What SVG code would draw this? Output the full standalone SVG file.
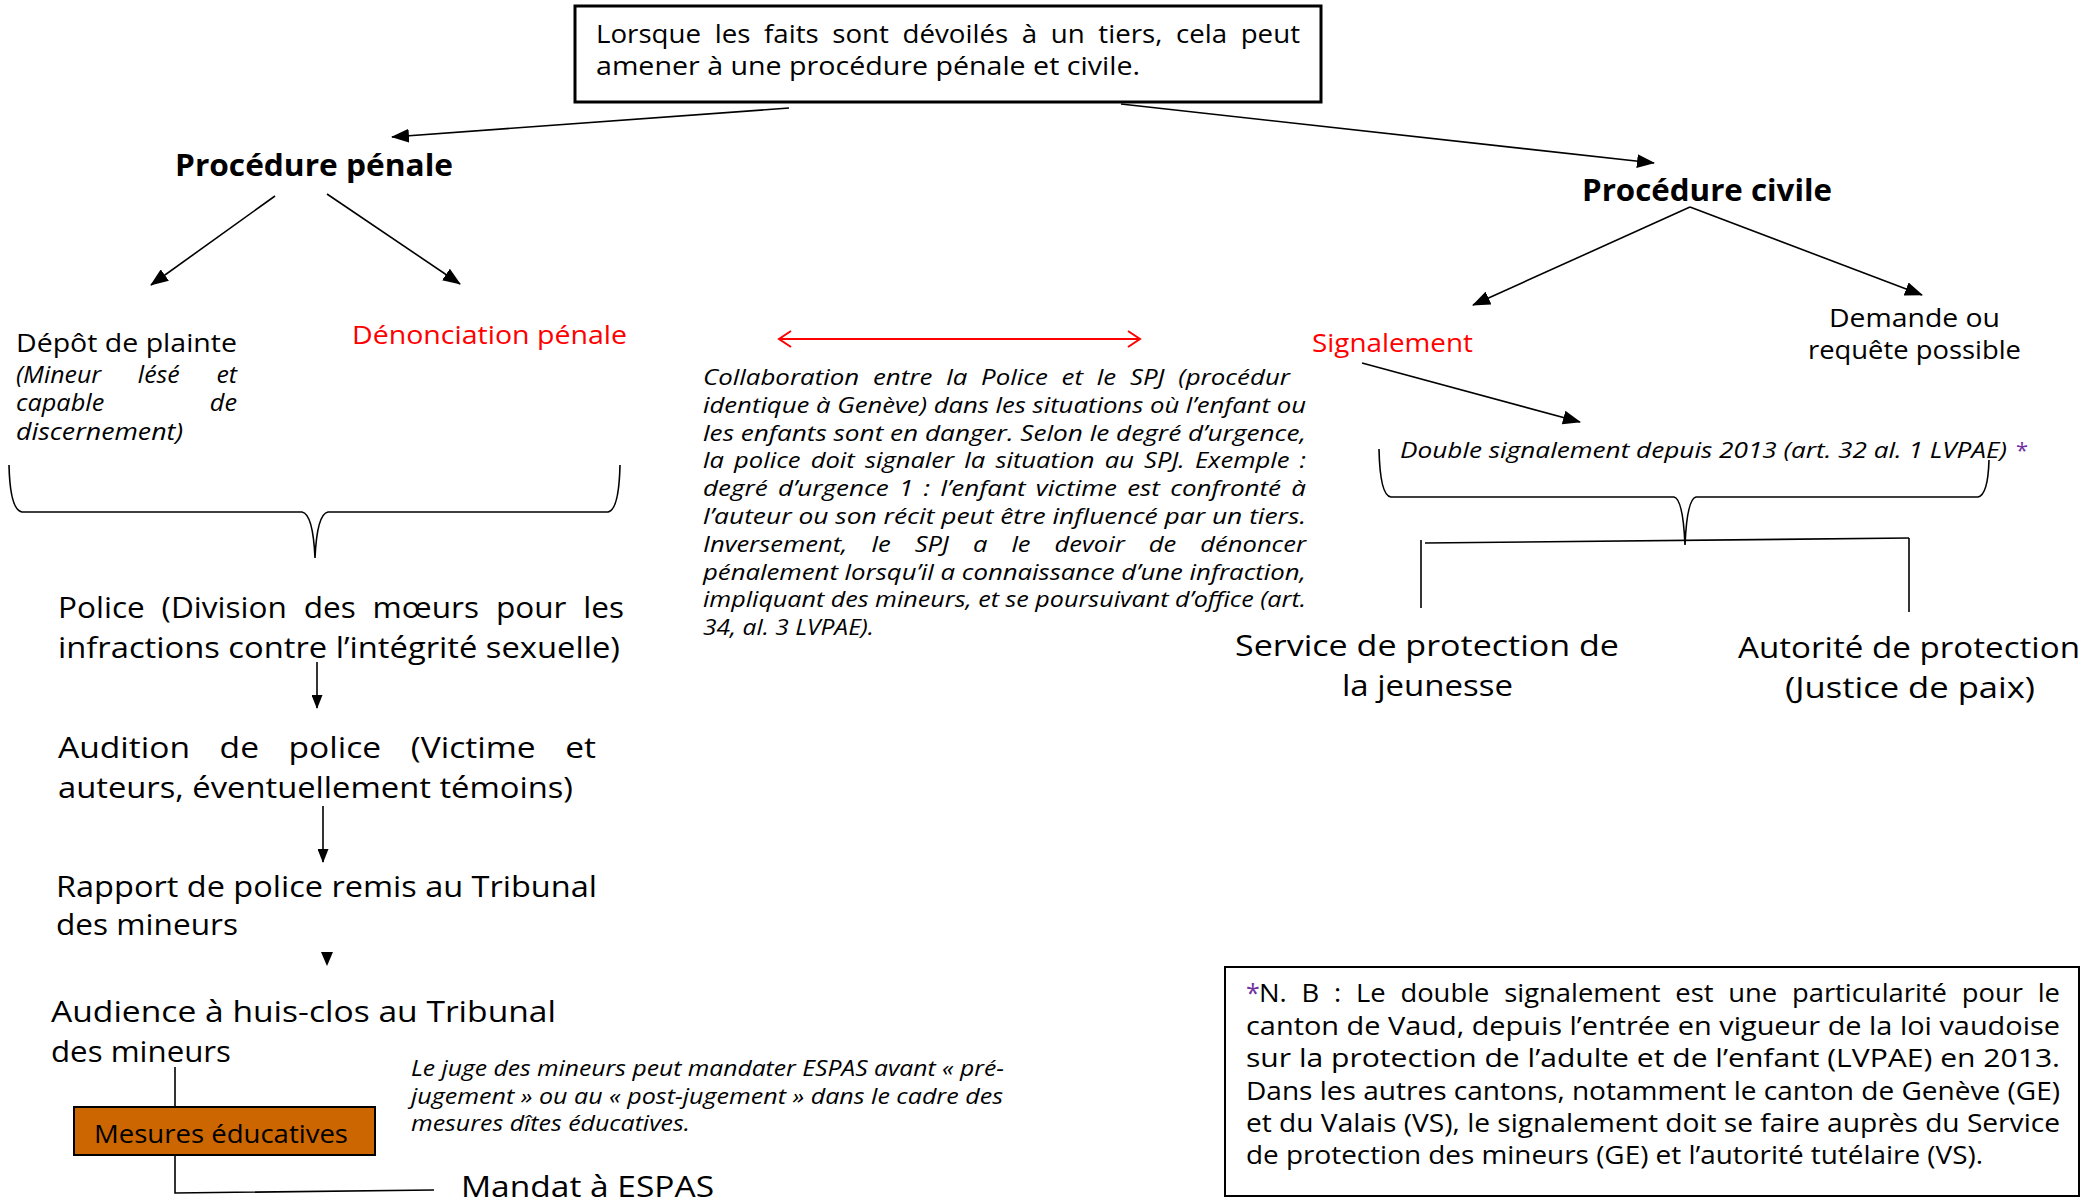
<svg xmlns="http://www.w3.org/2000/svg" width="2093" height="1203" viewBox="0 0 2093 1203">
<style>
.t{font-family:"Open Sans","Liberation Sans",sans-serif;fill:#000}
.it{font-style:italic}
.b{font-weight:bold}
.red{fill:#FF0000}
.pur{fill:#7030A0}
.ln{stroke:#000;stroke-width:1.6;fill:none}
.rl{stroke:#FF0000;stroke-width:2;fill:none}
</style>
<defs>
<marker id="ah" markerUnits="userSpaceOnUse" markerWidth="18" markerHeight="14" refX="17" refY="7" orient="auto">
<path d="M0,0 L18,7 L0,14 z" fill="#000"/>
</marker>
<marker id="as" markerUnits="userSpaceOnUse" markerWidth="14" markerHeight="11" refX="13" refY="5.5" orient="auto">
<path d="M0,0 L14,5.5 L0,11 z" fill="#000"/>
</marker>
</defs>

<g id="connectors">
<line class="ln" x1="789" y1="108" x2="392" y2="137" marker-end="url(#ah)"/>
<line class="ln" x1="1121" y1="104" x2="1654" y2="163" marker-end="url(#ah)"/>
<line class="ln" x1="275" y1="196" x2="151" y2="285" marker-end="url(#ah)"/>
<line class="ln" x1="327" y1="194" x2="460" y2="284" marker-end="url(#ah)"/>
<line class="ln" x1="1690" y1="207" x2="1473" y2="305" marker-end="url(#ah)"/>
<line class="ln" x1="1690" y1="207" x2="1922" y2="295" marker-end="url(#ah)"/>
<line class="ln" x1="1362" y1="363" x2="1580" y2="422" marker-end="url(#ah)"/>
<path class="ln" d="M9,465 Q10,510 22,512 L302,512 Q313,514 315,558 Q317,514 328,512 L608,512 Q619,510 620,465"/>
<path class="ln" d="M1379,449 Q1380,496 1391,497 L1674,497 Q1683,499 1685,545 Q1687,499 1696,497 L1978,497 Q1988,495 1989,460"/>
<line class="ln" x1="1425" y1="543" x2="1909" y2="538"/>
<line class="ln" x1="1421" y1="540" x2="1421" y2="608"/>
<line class="ln" x1="1909" y1="538" x2="1909" y2="612"/>
<line class="ln" x1="317" y1="662" x2="317" y2="708" marker-end="url(#as)"/>
<line class="ln" x1="323" y1="806" x2="323" y2="862" marker-end="url(#as)"/>
<polygon points="321,952 333,952 327,966" fill="#000"/>
<line class="ln" x1="175" y1="1067" x2="175" y2="1107"/>
<polyline class="ln" points="175,1156 175,1193 434,1190"/>
<g id="red-double-arrow">
<line class="rl" x1="779" y1="339" x2="1140" y2="339"/>
<polyline class="rl" points="791,331 779,339 791,347"/>
<polyline class="rl" points="1128,331 1140,339 1128,347"/>
</g>
</g>

<g id="top-box">
<rect x="575" y="6" width="746" height="96" fill="#fff" stroke="#000" stroke-width="3"/>
<text class="t" font-size="26" x="596" y="43" word-spacing="6" textLength="704" lengthAdjust="spacingAndGlyphs">Lorsque les faits sont dévoilés à un tiers, cela peut</text>
<text class="t" font-size="26" x="596" y="75" textLength="544" lengthAdjust="spacingAndGlyphs">amener à une procédure pénale et civile.</text>
</g>

<g id="procedure-penale">
<text class="t b" font-size="30" x="175" y="176" textLength="278" lengthAdjust="spacingAndGlyphs">Procédure pénale</text>
</g>
<g id="procedure-civile">
<text class="t b" font-size="30" x="1582" y="201" textLength="250" lengthAdjust="spacingAndGlyphs">Procédure civile</text>
</g>

<g id="depot-plainte">
<text class="t" font-size="25" x="16" y="352" textLength="221" lengthAdjust="spacingAndGlyphs">Dépôt de plainte</text>
<text class="t it" font-size="23" x="16" y="383" word-spacing="28" textLength="221" lengthAdjust="spacingAndGlyphs">(Mineur lésé et</text>
<text class="t it" font-size="23" x="16" y="411" word-spacing="90" textLength="221" lengthAdjust="spacingAndGlyphs">capable de</text>
<text class="t it" font-size="23" x="16" y="440" textLength="167" lengthAdjust="spacingAndGlyphs">discernement)</text>
</g>

<g id="denonciation">
<text class="t red" font-size="25" x="352" y="344" textLength="275" lengthAdjust="spacingAndGlyphs">Dénonciation pénale</text>
</g>

<g id="collaboration">
<text class="t it" font-size="22" x="703" y="385" word-spacing="6" textLength="587" lengthAdjust="spacingAndGlyphs">Collaboration entre la Police et le SPJ (procédur</text>
<text class="t it" font-size="22" x="703" y="413" textLength="603" lengthAdjust="spacingAndGlyphs">identique à Genève) dans les situations où l’enfant ou</text>
<text class="t it" font-size="22" x="703" y="441" textLength="603" lengthAdjust="spacingAndGlyphs">les enfants sont en danger. Selon le degré d’urgence,</text>
<text class="t it" font-size="22" x="703" y="468" word-spacing="3" textLength="603" lengthAdjust="spacingAndGlyphs">la police doit signaler la situation au SPJ. Exemple :</text>
<text class="t it" font-size="22" x="703" y="496" word-spacing="3" textLength="603" lengthAdjust="spacingAndGlyphs">degré d’urgence 1 : l’enfant victime est confronté à</text>
<text class="t it" font-size="22" x="703" y="524" textLength="603" lengthAdjust="spacingAndGlyphs">l’auteur ou son récit peut être influencé par un tiers.</text>
<text class="t it" font-size="22" x="703" y="552" word-spacing="15" textLength="603" lengthAdjust="spacingAndGlyphs">Inversement, le SPJ a le devoir de dénoncer</text>
<text class="t it" font-size="22" x="703" y="580" textLength="603" lengthAdjust="spacingAndGlyphs">pénalement lorsqu’il a connaissance d’une infraction,</text>
<text class="t it" font-size="22" x="703" y="607" textLength="603" lengthAdjust="spacingAndGlyphs">impliquant des mineurs, et se poursuivant d’office (art.</text>
<text class="t it" font-size="22" x="703" y="635" textLength="171" lengthAdjust="spacingAndGlyphs">34, al. 3 LVPAE).</text>
</g>

<g id="signalement">
<text class="t red" font-size="26" x="1312" y="352" textLength="161" lengthAdjust="spacingAndGlyphs">Signalement</text>
</g>
<g id="demande">
<text class="t" font-size="26" x="1829" y="327" textLength="171" lengthAdjust="spacingAndGlyphs">Demande ou</text>
<text class="t" font-size="26" x="1808" y="359" textLength="213" lengthAdjust="spacingAndGlyphs">requête possible</text>
</g>
<g id="double-signalement">
<text class="t it" font-size="22" x="1400" y="458" textLength="607" lengthAdjust="spacingAndGlyphs">Double signalement depuis 2013 (art. 32 al. 1 LVPAE)</text>
<text class="t pur" font-size="22" x="2016" y="458">*</text>
</g>
<g id="service-protection">
<text class="t" font-size="30" x="1235" y="656" textLength="384" lengthAdjust="spacingAndGlyphs">Service de protection de</text>
<text class="t" font-size="30" x="1342" y="696" textLength="171" lengthAdjust="spacingAndGlyphs">la jeunesse</text>
</g>
<g id="autorite-protection">
<text class="t" font-size="30" x="1738" y="658" textLength="342" lengthAdjust="spacingAndGlyphs">Autorité de protection</text>
<text class="t" font-size="30" x="1785" y="698" textLength="250" lengthAdjust="spacingAndGlyphs">(Justice de paix)</text>
</g>

<g id="police">
<text class="t" font-size="29" x="58" y="618" word-spacing="8" textLength="566" lengthAdjust="spacingAndGlyphs">Police (Division des mœurs pour les</text>
<text class="t" font-size="29" x="58" y="658" textLength="562" lengthAdjust="spacingAndGlyphs">infractions contre l’intégrité sexuelle)</text>
</g>
<g id="audition">
<text class="t" font-size="29" x="58" y="758" word-spacing="18" textLength="538" lengthAdjust="spacingAndGlyphs">Audition de police (Victime et</text>
<text class="t" font-size="29" x="58" y="798" textLength="515" lengthAdjust="spacingAndGlyphs">auteurs, éventuellement témoins)</text>
</g>
<g id="rapport">
<text class="t" font-size="29" x="56" y="897" textLength="541" lengthAdjust="spacingAndGlyphs">Rapport de police remis au Tribunal</text>
<text class="t" font-size="29" x="56" y="935" textLength="182" lengthAdjust="spacingAndGlyphs">des mineurs</text>
</g>
<g id="audience">
<text class="t" font-size="29" x="51" y="1022" textLength="505" lengthAdjust="spacingAndGlyphs">Audience à huis-clos au Tribunal</text>
<text class="t" font-size="29" x="51" y="1062" textLength="180" lengthAdjust="spacingAndGlyphs">des mineurs</text>
</g>
<g id="mesures-educatives">
<rect x="74" y="1107" width="301" height="48" fill="#CC6600" stroke="#000" stroke-width="2"/>
<text class="t" font-size="26" x="94" y="1143" textLength="254" lengthAdjust="spacingAndGlyphs">Mesures éducatives</text>
</g>
<g id="juge-note">
<text class="t it" font-size="21" x="411" y="1076" textLength="593" lengthAdjust="spacingAndGlyphs">Le juge des mineurs peut mandater ESPAS avant « pré-</text>
<text class="t it" font-size="21" x="411" y="1104" textLength="592" lengthAdjust="spacingAndGlyphs">jugement » ou au « post-jugement » dans le cadre des</text>
<text class="t it" font-size="21" x="411" y="1131" textLength="279" lengthAdjust="spacingAndGlyphs">mesures dîtes éducatives.</text>
</g>
<g id="mandat-espas">
<text class="t" font-size="29" x="461" y="1197" textLength="253" lengthAdjust="spacingAndGlyphs">Mandat à ESPAS</text>
</g>

<g id="nb-box">
<rect x="1225" y="967" width="854" height="229" fill="#fff" stroke="#000" stroke-width="2"/>
<text class="t pur" font-size="25" x="1246" y="1002">*</text>
<text class="t" font-size="25" x="1259" y="1002" word-spacing="7" textLength="801" lengthAdjust="spacingAndGlyphs">N. B : Le double signalement est une particularité pour le</text>
<text class="t" font-size="25" x="1246" y="1035" textLength="814" lengthAdjust="spacingAndGlyphs">canton de Vaud, depuis l’entrée en vigueur de la loi vaudoise</text>
<text class="t" font-size="25" x="1246" y="1067" textLength="814" lengthAdjust="spacingAndGlyphs">sur la protection de l’adulte et de l’enfant (LVPAE) en 2013.</text>
<text class="t" font-size="25" x="1246" y="1100" textLength="814" lengthAdjust="spacingAndGlyphs">Dans les autres cantons, notamment le canton de Genève (GE)</text>
<text class="t" font-size="25" x="1246" y="1132" textLength="814" lengthAdjust="spacingAndGlyphs">et du Valais (VS), le signalement doit se faire auprès du Service</text>
<text class="t" font-size="25" x="1246" y="1164" textLength="737" lengthAdjust="spacingAndGlyphs">de protection des mineurs (GE) et l’autorité tutélaire (VS).</text>
</g>
</svg>
